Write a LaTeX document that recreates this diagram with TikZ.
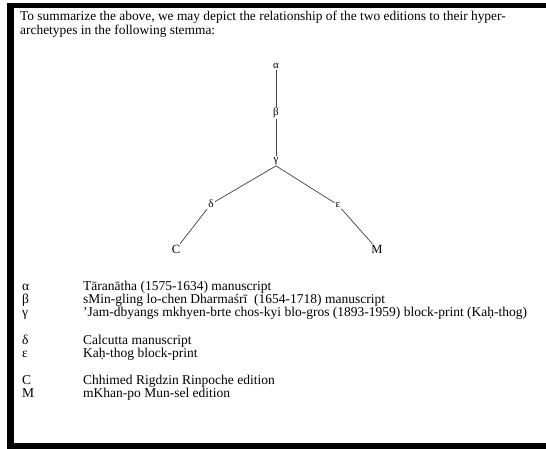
\documentclass[tikz,border=0pt]{standalone}
\usepackage{fontspec}
\setmainfont{Liberation Serif}
\usetikzlibrary{positioning}
\tikzset{
    witness/.style={
        inner sep=1pt,
        font=\fontsize{11}{13}\selectfont
    },
    stemLine/.style={
        draw=black!75,
        line width=0.7pt
    },
    bodyText/.style={
        anchor=base west,
        inner sep=0pt,
        font=\fontsize{13.4}{14}\selectfont
    },
    legendText/.style={
        anchor=base west,
        inner sep=0pt,
        font=\fontsize{13.5}{14}\selectfont
    }
}

\begin{document}
\begin{tikzpicture}[x=1pt, y=-1pt]
    % Page frame
    \useasboundingbox (0,0) rectangle (546,449);
    \fill[black] (7,3) rectangle (546,449);
    \fill[white] (14,8) rectangle (546,443);

    % Introductory text
    \node[bodyText] (introA) at (20,21) {To summarize the above, we may depict the relationship of the two editions to their hyper-};
    \node[bodyText] (introB) at (20,35) {archetypes in the following stemma:};

    % Stemma witnesses
    \node[witness] (alpha) at (276,66) {α};
    \node[witness] (beta) at (276,113) {β};
    \node[witness] (gamma) at (276,161) {γ};
    \node[witness] (delta) at (211,204) {δ};
    \node[witness] (epsilon) at (338,205) {ε};
    \node[witness, font=\fontsize{12.5}{14}\selectfont] (edC) at (176,249) {C};
    \node[witness, font=\fontsize{12.5}{14}\selectfont] (edM) at (377,249) {M};

    % Lines of descent
    \draw[stemLine] (alpha) -- (beta);
    \draw[stemLine] (beta) -- (gamma);
    \draw[stemLine] (gamma.south) -- (delta);
    \draw[stemLine] (delta) -- (edC);
    \draw[stemLine] (gamma.south) -- (epsilon);
    \draw[stemLine] (epsilon) -- (edM);

    % Key to the sigla
    \node[legendText] (keyAlpha) at (22,290) {α};
    \node[legendText] (descAlpha) at (83,290) {Tāranātha (1575-1634) manuscript};
    \node[legendText] (keyBeta) at (22,303) {β};
    \node[legendText] (descBeta) at (83,303) {sMin-gling lo-chen Dharmaśrī\ \ (1654-1718) manuscript};
    \node[legendText] (keyGamma) at (22,316) {γ};
    \node[legendText] (descGamma) at (83,316) {’Jam-dbyangs mkhyen-brte chos-kyi blo-gros (1893-1959) block-print (Kaḥ-thog)};

    \node[legendText] (keyDelta) at (22,344) {δ};
    \node[legendText] (descDelta) at (83,344) {Calcutta manuscript};
    \node[legendText] (keyEpsilon) at (22,357) {ε};
    \node[legendText] (descEpsilon) at (83,357) {Kaḥ-thog block-print};

    \node[legendText] (keyC) at (22,384) {C};
    \node[legendText] (descC) at (83,384) {Chhimed Rigdzin Rinpoche edition};
    \node[legendText] (keyM) at (22,397) {M};
    \node[legendText] (descM) at (83,397) {mKhan-po Mun-sel edition};
\end{tikzpicture}
\end{document}
